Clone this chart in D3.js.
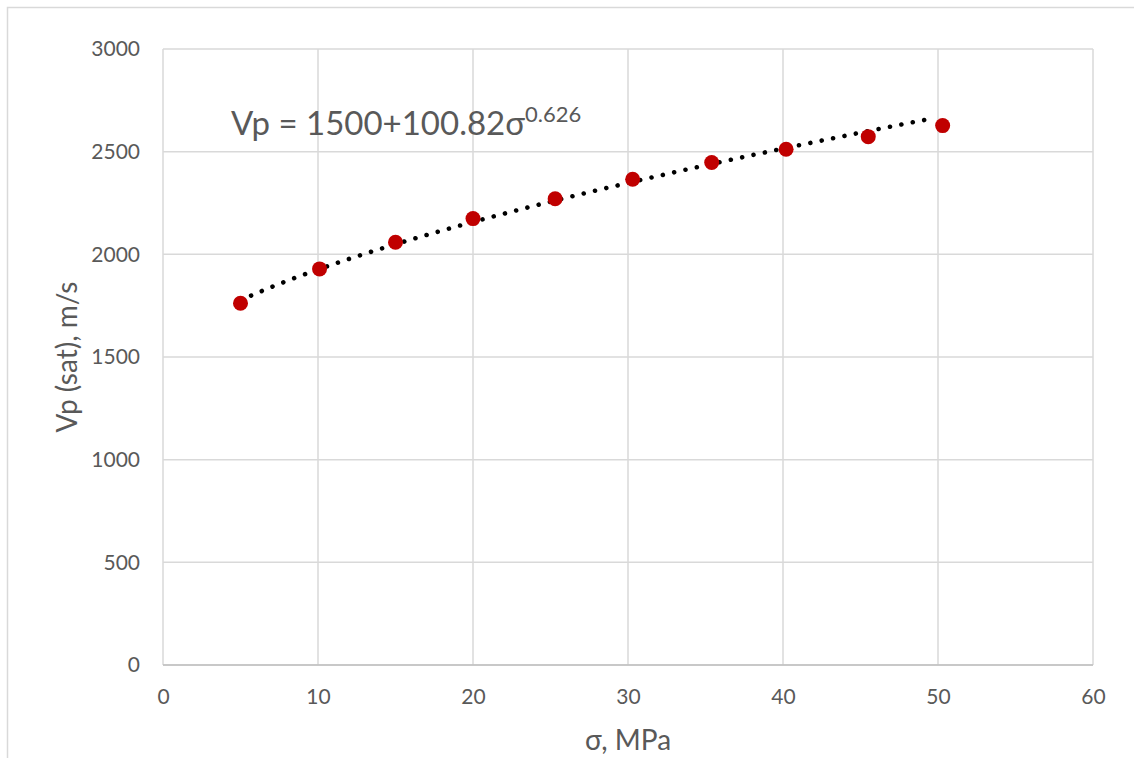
<!DOCTYPE html>
<html>
<head>
<meta charset="utf-8">
<script src="https://cdn.jsdelivr.net/npm/d3@7"></script>
<style>
  html, body { margin: 0; padding: 0; background: #fff; }
  svg { display: block; }
  text { font-family: Lato, "Open Sans", sans-serif; fill: #595959; }
</style>
</head>
<body>
<svg id="chart" width="1134" height="758"></svg>
<script>
// ---- data ----
const sigma = [5.0, 10.1, 15.0, 20.0, 25.3, 30.3, 35.4, 40.2, 45.5, 50.3];
const vpSat = [1762, 1929, 2059, 2174, 2271, 2366, 2447, 2512, 2573, 2627];
const xTicks = [0, 10, 20, 30, 40, 50, 60];
const yTicks = [0, 500, 1000, 1500, 2000, 2500, 3000];
const trendParams = [1500, 100.82, 0.626]; // a + b * sigma^c
const trendRange = [5.0, 49.6];
const xTitle = "σ, MPa";
const yTitle = "Vp (sat), m/s";
const eqMain = "Vp = 1500+100.82σ";
const eqSup = "0.626";

// ---- layout ----
const svg = d3.select("#chart");
const W = 1134, H = 758;
const m = { left: 163, right: 1093, top: 49, bottom: 665 };

// outer chart border
svg.append("rect")
  .attr("x", 7.5).attr("y", 7.5)
  .attr("width", W).attr("height", H)
  .attr("fill", "none").attr("stroke", "#d9d9d9").attr("stroke-width", 1.5);

const x = d3.scaleLinear().domain([0, 60]).range([m.left, m.right]);
const y = d3.scaleLinear().domain([0, 3000]).range([m.bottom, m.top]);

// gridlines
const g = svg.append("g");
g.selectAll(".vgrid").data(xTicks).join("line")
  .attr("x1", d => x(d)).attr("x2", d => x(d))
  .attr("y1", m.top).attr("y2", m.bottom)
  .attr("stroke", "#d9d9d9").attr("stroke-width", 1.5);
g.selectAll(".hgrid").data(yTicks).join("line")
  .attr("x1", m.left).attr("x2", m.right)
  .attr("y1", d => y(d)).attr("y2", d => y(d))
  .attr("stroke", "#d9d9d9").attr("stroke-width", 1.5);
// bottom axis line
g.append("line")
  .attr("x1", m.left).attr("x2", m.right)
  .attr("y1", y(0)).attr("y2", y(0))
  .attr("stroke", "#bfbfbf").attr("stroke-width", 1.5);

// axes with d3 axis generators (labels only)
const xAxis = svg.append("g")
  .attr("transform", `translate(0,${m.bottom})`)
  .call(d3.axisBottom(x).tickValues(xTicks).tickSize(0).tickPadding(24).tickFormat(d3.format("d")));
xAxis.select(".domain").remove();
xAxis.selectAll("text").attr("font-size", 21).attr("fill", "#595959")
  .style("font-family", "Lato, 'Open Sans', sans-serif");

const yAxis = svg.append("g")
  .attr("transform", `translate(${m.left},0)`)
  .call(d3.axisLeft(y).tickValues(yTicks).tickSize(0).tickPadding(23).tickFormat(d3.format("d")));
yAxis.select(".domain").remove();
yAxis.selectAll("text").attr("font-size", 21).attr("fill", "#595959")
  .style("font-family", "Lato, 'Open Sans', sans-serif");

// trendline
const nSteps = 200;
const trendData = d3.range(nSteps + 1).map(i => {
  const s = trendRange[0] + (trendRange[1] - trendRange[0]) * i / nSteps;
  return [s, trendParams[0] + trendParams[1] * Math.pow(s, trendParams[2])];
});
svg.append("path")
  .datum(trendData)
  .attr("d", d3.line().x(d => x(d[0])).y(d => y(d[1])))
  .attr("fill", "none")
  .attr("stroke", "#000")
  .attr("stroke-width", 4.6)
  .attr("stroke-linecap", "round")
  .attr("stroke-dasharray", "0.01 11.6");

// markers
svg.selectAll(".pt").data(sigma).join("circle")
  .attr("cx", d => x(d))
  .attr("cy", (d, i) => y(vpSat[i]))
  .attr("r", 7.5)
  .attr("fill", "#c00000");

// equation
const eq = svg.append("text")
  .attr("x", 231).attr("y", 135)
  .attr("font-size", 33);
eq.append("tspan").text(eqMain);
eq.append("tspan").attr("dy", -13).attr("font-size", 22).text(eqSup);

// axis titles
svg.append("text")
  .attr("x", (m.left + m.right) / 2).attr("y", 750)
  .attr("text-anchor", "middle").attr("font-size", 28)
  .text(xTitle);
svg.append("text")
  .attr("transform", `translate(77,${(m.top + m.bottom) / 2}) rotate(-90)`)
  .attr("text-anchor", "middle").attr("font-size", 28)
  .text(yTitle);
</script>
</body>
</html>
